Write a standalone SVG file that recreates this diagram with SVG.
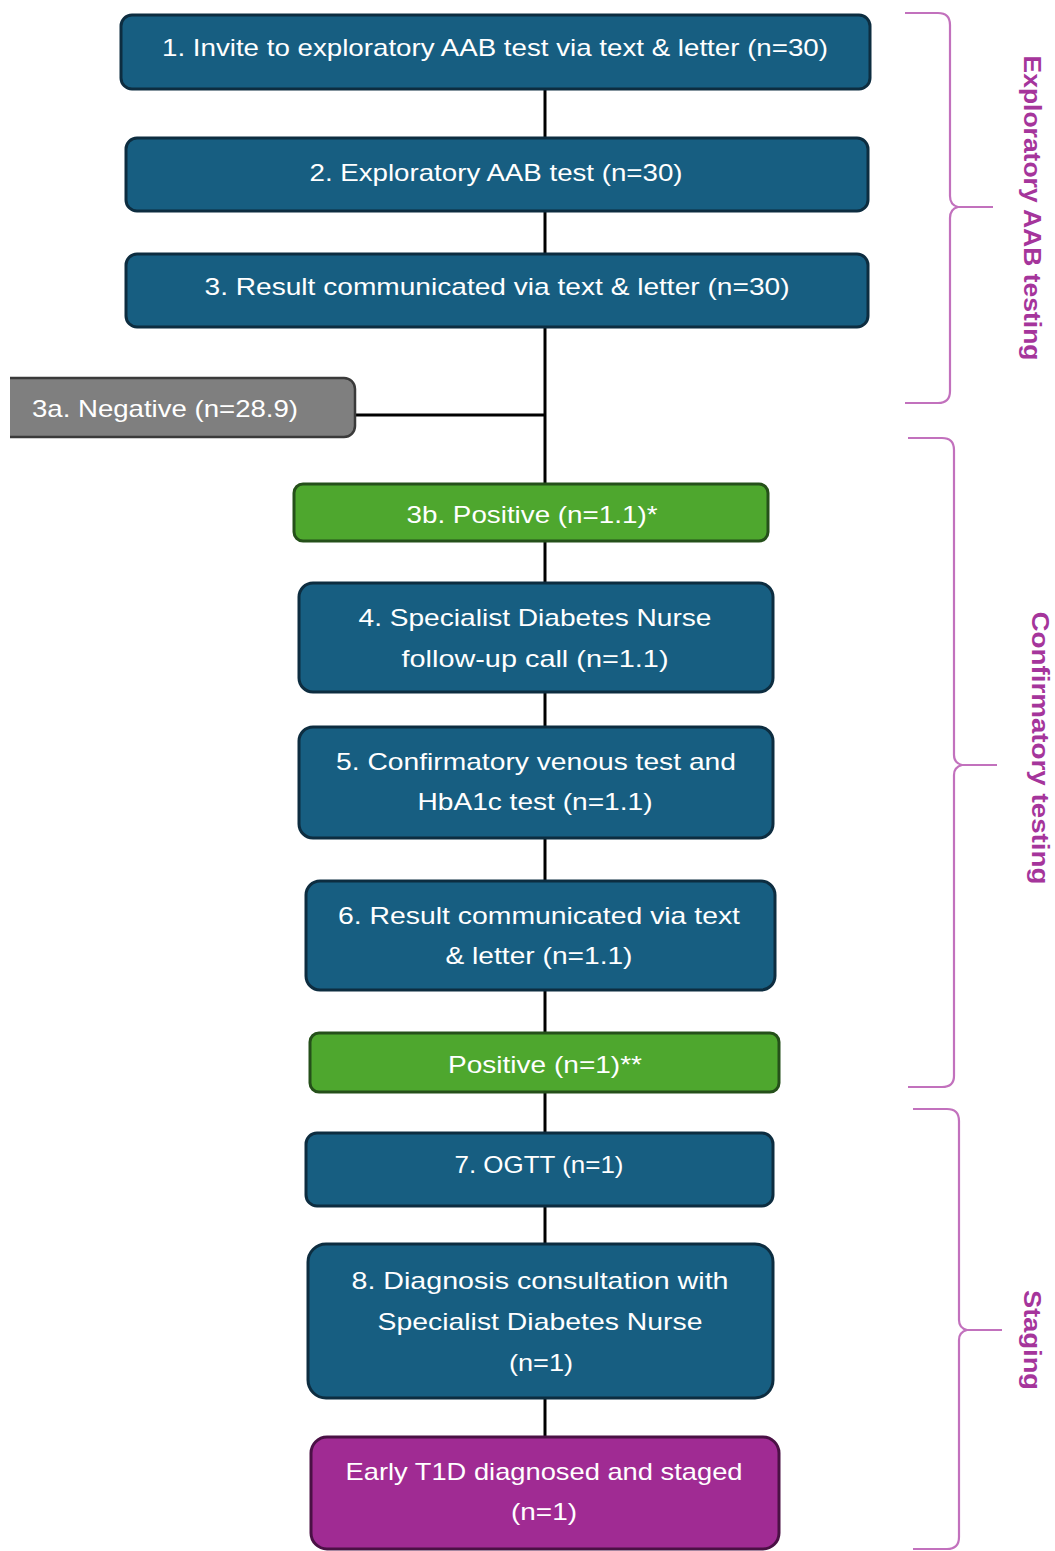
<svg xmlns="http://www.w3.org/2000/svg" width="1055" height="1551" viewBox="0 0 1055 1551">
  <style>
    .step { fill: #175e81; stroke: #0d2d40; stroke-width: 3; }
    .pos { fill: #4ea72e; stroke: #25501a; stroke-width: 3; }
    .neg { fill: #7f7f7f; }
    .outcome { fill: #a02b93; stroke: #4a1145; stroke-width: 3; }
    .lbl { font-family: "Liberation Sans", Arial, sans-serif; font-size: 24px; fill: #ffffff; text-anchor: middle; }
    .link { stroke: #000000; stroke-width: 3; fill: none; }
    .brace { stroke: #c271bd; stroke-width: 2.2; fill: none; }
    .phase { font-family: "Liberation Sans", Arial, sans-serif; font-size: 23px; font-weight: bold; fill: #a5359b; text-anchor: middle; }
  </style>

  <!-- connectors -->
  <g id="connectors">
    <line class="link" x1="545" y1="89" x2="545" y2="138"/>
    <line class="link" x1="545" y1="211" x2="545" y2="254"/>
    <line class="link" x1="545" y1="327" x2="545" y2="484"/>
    <line class="link" x1="355" y1="415" x2="545" y2="415"/>
    <line class="link" x1="545" y1="541" x2="545" y2="583"/>
    <line class="link" x1="545" y1="692" x2="545" y2="727"/>
    <line class="link" x1="545" y1="838" x2="545" y2="881"/>
    <line class="link" x1="545" y1="990" x2="545" y2="1033"/>
    <line class="link" x1="545" y1="1092" x2="545" y2="1133"/>
    <line class="link" x1="545" y1="1206" x2="545" y2="1244"/>
    <line class="link" x1="545" y1="1398" x2="545" y2="1437"/>
  </g>

  <g id="step1">
    <rect class="step" x="121" y="15" width="749" height="74" rx="11"/>
    <text class="lbl" x="495" y="56" textLength="666" lengthAdjust="spacingAndGlyphs">1. Invite to exploratory AAB test via text &amp; letter (n=30)</text>
  </g>
  <g id="step2">
    <rect class="step" x="126" y="138" width="742" height="73" rx="11"/>
    <text class="lbl" x="496" y="181" textLength="373" lengthAdjust="spacingAndGlyphs">2. Exploratory AAB test (n=30)</text>
  </g>
  <g id="step3">
    <rect class="step" x="126" y="254" width="742" height="73" rx="11"/>
    <text class="lbl" x="497" y="295" textLength="585" lengthAdjust="spacingAndGlyphs">3. Result communicated via text &amp; letter (n=30)</text>
  </g>
  <g id="step3a">
    <path class="neg" d="M10 378 H344 A11 11 0 0 1 355 389 V426 A11 11 0 0 1 344 437 H10 Z"/>
    <path d="M10 378 H344 A11 11 0 0 1 355 389 V426 A11 11 0 0 1 344 437 H10" fill="none" stroke="#3a3a3a" stroke-width="2.5"/>
    <text class="lbl" x="165" y="417" textLength="266" lengthAdjust="spacingAndGlyphs">3a. Negative (n=28.9)</text>
  </g>
  <g id="step3b">
    <rect class="pos" x="294" y="484" width="474" height="57" rx="9"/>
    <text class="lbl" x="532" y="523" textLength="251" lengthAdjust="spacingAndGlyphs">3b. Positive (n=1.1)*</text>
  </g>
  <g id="step4">
    <rect class="step" x="299" y="583" width="474" height="109" rx="14"/>
    <text class="lbl" x="535" y="626" textLength="353" lengthAdjust="spacingAndGlyphs">4. Specialist Diabetes Nurse</text>
    <text class="lbl" x="535" y="667" textLength="267" lengthAdjust="spacingAndGlyphs">follow-up call (n=1.1)</text>
  </g>
  <g id="step5">
    <rect class="step" x="299" y="727" width="474" height="111" rx="14"/>
    <text class="lbl" x="536" y="770" textLength="400" lengthAdjust="spacingAndGlyphs">5. Confirmatory venous test and</text>
    <text class="lbl" x="535" y="810" textLength="235" lengthAdjust="spacingAndGlyphs">HbA1c test (n=1.1)</text>
  </g>
  <g id="step6">
    <rect class="step" x="306" y="881" width="469" height="109" rx="14"/>
    <text class="lbl" x="539" y="924" textLength="402" lengthAdjust="spacingAndGlyphs">6. Result communicated via text</text>
    <text class="lbl" x="539" y="964" textLength="187" lengthAdjust="spacingAndGlyphs">&amp; letter (n=1.1)</text>
  </g>
  <g id="positive">
    <rect class="pos" x="310" y="1033" width="469" height="59" rx="9"/>
    <text class="lbl" x="545" y="1073" textLength="194" lengthAdjust="spacingAndGlyphs">Positive (n=1)**</text>
  </g>
  <g id="step7">
    <rect class="step" x="306" y="1133" width="467" height="73" rx="11"/>
    <text class="lbl" x="539" y="1173" textLength="169" lengthAdjust="spacingAndGlyphs">7. OGTT (n=1)</text>
  </g>
  <g id="step8">
    <rect class="step" x="308" y="1244" width="465" height="154" rx="18"/>
    <text class="lbl" x="540" y="1289" textLength="377" lengthAdjust="spacingAndGlyphs">8. Diagnosis consultation with</text>
    <text class="lbl" x="540" y="1330" textLength="325" lengthAdjust="spacingAndGlyphs">Specialist Diabetes Nurse</text>
    <text class="lbl" x="541" y="1371" textLength="64" lengthAdjust="spacingAndGlyphs">(n=1)</text>
  </g>
  <g id="diagnosed">
    <rect class="outcome" x="311" y="1437" width="468" height="112" rx="16"/>
    <text class="lbl" x="544" y="1480" textLength="397" lengthAdjust="spacingAndGlyphs">Early T1D diagnosed  and staged</text>
    <text class="lbl" x="544" y="1520" textLength="66" lengthAdjust="spacingAndGlyphs">(n=1)</text>
  </g>

  <!-- phase braces -->
  <g id="phase-exploratory">
    <path class="brace" d="M905 13 H938 Q950 13 950 25 V196 Q950 205 958 207 L993 207 L958 207 Q950 209 950 218 V391 Q950 403 938 403 H905"/>
    <text class="phase" transform="translate(1032 208) rotate(90)" x="0" y="0" dy="8" textLength="305" lengthAdjust="spacingAndGlyphs">Exploratory AAB testing</text>
  </g>
  <g id="phase-confirmatory">
    <path class="brace" d="M908 438 H942 Q954 438 954 450 V755 Q954 763 962 765 L997 765 L962 765 Q954 767 954 775 V1076 Q954 1087 942 1087 H908"/>
    <text class="phase" transform="translate(1040 748) rotate(90)" x="0" y="0" dy="8" textLength="273" lengthAdjust="spacingAndGlyphs">Confirmatory testing</text>
  </g>
  <g id="phase-staging">
    <path class="brace" d="M913 1109 H947 Q959 1109 959 1121 V1320 Q959 1328 967 1330 L1002 1330 L967 1330 Q959 1332 959 1340 V1537 Q959 1549 947 1549 H913"/>
    <text class="phase" transform="translate(1032 1340) rotate(90)" x="0" y="0" dy="8" textLength="100" lengthAdjust="spacingAndGlyphs">Staging</text>
  </g>
</svg>
